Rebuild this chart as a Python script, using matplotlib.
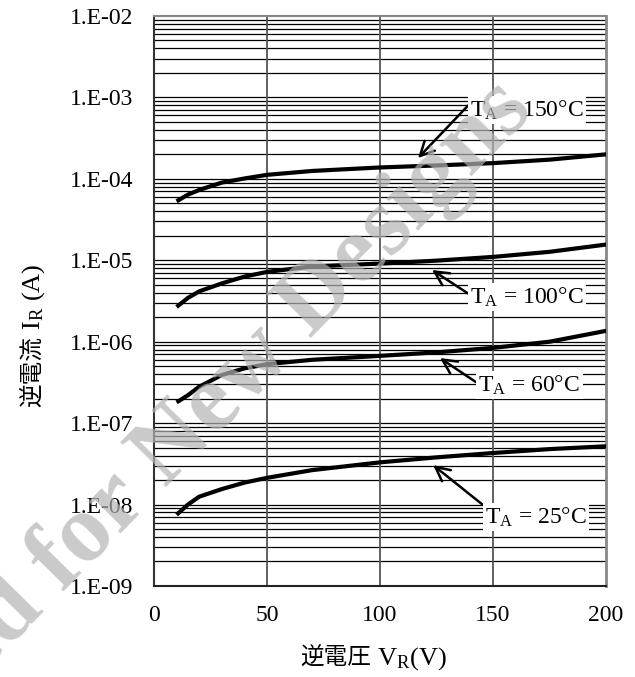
import numpy as np
import matplotlib
matplotlib.use("Agg")
import matplotlib.pyplot as plt

plt.rcParams['font.family'] = ['Liberation Serif', 'Noto Sans CJK JP']
plt.rcParams['mathtext.fontset'] = 'custom'
plt.rcParams['mathtext.rm'] = 'Liberation Serif'
plt.rcParams['mathtext.it'] = 'Liberation Serif:italic'

# reverse voltage (V)
vr = [10, 15, 20, 30, 40, 50, 70, 100, 125, 150, 175, 200]

# reverse current (A) per ambient temperature
ir_150 = [5.3e-5, 6.4e-5, 7.3e-5, 9.0e-5, 1.01e-4, 1.12e-4, 1.25e-4, 1.38e-4, 1.46e-4, 1.56e-4, 1.72e-4, 2.0e-4]
ir_100 = [2.67e-6, 3.45e-6, 4.15e-6, 5.2e-6, 6.3e-6, 7.2e-6, 8.4e-6, 9.1e-6, 9.9e-6, 1.1e-5, 1.27e-5, 1.56e-5]
ir_60 = [1.8e-7, 2.2e-7, 2.8e-7, 3.9e-7, 4.7e-7, 5.3e-7, 6.0e-7, 6.7e-7, 7.4e-7, 8.4e-7, 1.0e-6, 1.36e-6]
ir_25 = [7.5e-9, 1.0e-8, 1.25e-8, 1.55e-8, 1.86e-8, 2.13e-8, 2.65e-8, 3.3e-8, 3.8e-8, 4.3e-8, 4.8e-8, 5.2e-8]

curves = [ir_150, ir_100, ir_60, ir_25]
labels = ['150', '100', '60', '25']
# label text position and arrow target (data coords)
text_pos = [(140, 7.0e-4), (140, 3.5e-6), (143.5, 2.95e-7), (146.5, 7.0e-9)]
arrow_to = [(116.8, 1.8e-4), (123, 7.6e-6), (126.5, 6.3e-7), (123.5, 3.05e-8)]
arrow_rel = [(0.0, 0.8), (0.0, 0.6), (0.0, 0.55), (0.0, 0.95)]

xticks = [0, 50, 100, 150, 200]
yticks = [1e-9, 1e-8, 1e-7, 1e-6, 1e-5, 1e-4, 1e-3, 1e-2]
ytick_labels = ['1.E-09', '1.E-08', '1.E-07', '1.E-06', '1.E-05', '1.E-04', '1.E-03', '1.E-02']

fig = plt.figure(figsize=(6.35, 6.77), dpi=100)
ax = fig.add_axes([0.2425, 0.1344, 0.712, 0.842])

ax.set_yscale('log')
ax.set_xlim(0, 200)
ax.set_ylim(1e-9, 1e-2)

# horizontal grid at every 1..9 x decade
for d in range(-9, -2):
    for m in range(1, 10):
        ax.axhline(m * 10.0 ** d, color='black', lw=0.9, zorder=1)
for x in [50, 100, 150]:
    ax.axvline(x, color='#555555', lw=1.3, zorder=1)

for ir in curves:
    ax.plot(vr, ir, color='black', lw=3.0, zorder=3,
            solid_capstyle='butt', solid_joinstyle='round')

for lab, tp, at, rp in zip(labels, text_pos, arrow_to, arrow_rel):
    ax.annotate('T$_{\\mathrm{A}}$ = ' + lab + '°C', xy=at, xytext=tp,
                ha='left', va='center', fontsize=17, zorder=5,
                bbox=dict(boxstyle='square,pad=0.1', fc='white', ec='none'),
                arrowprops=dict(arrowstyle='->,head_length=0.6,head_width=0.3',
                                color='black', lw=1.8, relpos=rp,
                                shrinkA=0, shrinkB=0))

ax.set_xticks(xticks)
ax.set_xticklabels([str(x) for x in xticks])
ax.set_yticks(yticks)
ax.set_yticklabels(ytick_labels)
ax.yaxis.set_minor_locator(matplotlib.ticker.NullLocator())
ax.tick_params(axis='both', length=0, labelsize=17)
ax.tick_params(axis='y', pad=15)
ax.tick_params(axis='x', pad=14)

ax.spines['left'].set_color('#333333')
ax.spines['bottom'].set_color('#222222')
ax.spines['top'].set_color('#888888')
ax.spines['right'].set_color('#888888')
ax.spines['left'].set_linewidth(1.5)
ax.spines['bottom'].set_linewidth(1.5)
ax.spines['top'].set_linewidth(1.5)
ax.spines['right'].set_linewidth(2.0)

# axis titles: CJK part and Latin/subscript part share one anchor
yx, yy = 0.063, 0.503
fig.text(yx, yy, '逆電流', rotation=90, rotation_mode='anchor',
         ha='right', va='baseline', fontsize=17, family='Noto Sans CJK JP')
fig.text(yx, yy, ' I$_{\\mathrm{R}}$ (A)', rotation=90, rotation_mode='anchor',
         ha='left', va='baseline', fontsize=19)
xx, xy = 0.584, 0.018
fig.text(xx, xy, '逆電圧', ha='right', va='baseline', fontsize=17,
         family='Noto Sans CJK JP')
fig.text(xx, xy, ' V$_{\\mathrm{R}}$(V)', ha='left', va='baseline', fontsize=19)

# watermark
fig.text(535 / 635, 1 - 112 / 677, 'Not Recommended for New Designs',
         rotation=45.5, rotation_mode='anchor', ha='right', va='baseline',
         fontsize=70, fontweight='bold', color='#b4b4b4', alpha=0.7,
         family='Liberation Serif', zorder=10)

fig.savefig('out.png', dpi=100)
